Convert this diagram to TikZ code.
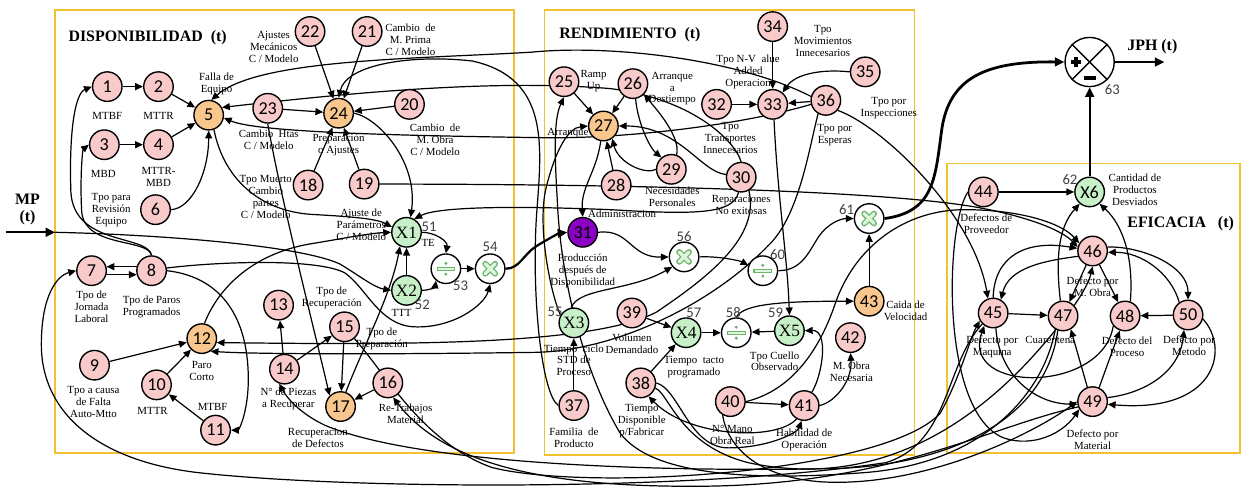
\documentclass[tikz,border=0pt]{standalone}
\usepackage{fontspec}
\setmainfont{Liberation Serif}
\newfontfamily\carl{Carlito}
\usetikzlibrary{arrows.meta,calc}
\pgfdeclarelayer{bg}
\pgfsetlayers{bg,main}
\definecolor{pinkc}{HTML}{F8CACA}
\definecolor{orc}{HTML}{F9C68E}
\definecolor{grc}{HTML}{C8F0C8}
\definecolor{purc}{HTML}{8A00C4}
\definecolor{boxc}{HTML}{F2C12E}
\definecolor{xgreen}{HTML}{6DB56D}
\definecolor{xlight}{HTML}{DDF5DD}
\definecolor{numc}{HTML}{404040}
\newcommand\mulsym[1]{%
 \draw[line width=3.4pt,xgreen,line cap=round] ($(#1)+(-5,-5)$) -- ($(#1)+(5,5)$) ($(#1)+(-5,5)$) -- ($(#1)+(5,-5)$);
 \draw[line width=1.9pt,xlight,line cap=round] ($(#1)+(-5,-5)$) -- ($(#1)+(5,5)$) ($(#1)+(-5,5)$) -- ($(#1)+(5,-5)$);}
\newcommand\divsym[1]{%
 \draw[fill=xlight,draw=xgreen,line width=0.6pt] ($(#1)+(-9,-1.6)$) rectangle ($(#1)+(9,1.6)$);
 \fill[xgreen] ($(#1)+(0,-5.5)$) circle (1.7) ($(#1)+(0,5.5)$) circle (1.7);}
\begin{document}
\begin{tikzpicture}[x=0.02cm,y=-0.02cm,
  base/.style={circle,draw=black,line width=0.8pt,minimum size=0.6cm,inner sep=0pt,font=\carl\fontsize{10.5}{10.5}\selectfont},
  pk/.style={base,fill=pinkc},
  og/.style={base,fill=orc},
  gn/.style={base,fill=grc,font=\fontsize{10}{10}\selectfont},
  pu/.style={base,fill=purc},
  opn/.style={base,fill=white},
  lbl/.style={font=\fontsize{6.3}{6.9}\selectfont,align=center,inner sep=0pt},
  ttl/.style={font=\bfseries\fontsize{9.2}{10.5}\selectfont,inner sep=0pt},
  nm/.style={font=\carl\fontsize{8.5}{8.5}\selectfont,text=numc,inner sep=0pt},
  ar/.style={-{Triangle[length=4.5pt,width=4pt]},line width=0.7pt},
  thk/.style={-{Triangle[length=5.5pt,width=5pt]},line width=1.3pt},
  bx/.style={draw=boxc,line width=0.9pt}
]
\begin{pgfonlayer}{bg}
\fill[white] (0,0) rectangle (1241,495);
\draw[bx] (56,10) rectangle (522,460);
\draw[bx] (553,10) rectangle (929,462);
\draw[bx] (962,166) rectangle (1260,460);
\end{pgfonlayer}
\useasboundingbox (0,0) rectangle (1241,495);

% nodes
\node[pk] (n1) at (109,88) {1};
\node[pk] (n2) at (161,88) {2};
\node[pk] (n3) at (106,147) {3};
\node[pk] (n4) at (161,147) {4};
\node[og] (n5) at (212,117) {5};
\node[pk] (n6) at (158,213) {6};
\node[pk] (n7) at (93,275) {7};
\node[pk] (n8) at (154,275) {8};
\node[pk] (n9) at (96,371) {9};
\node[pk] (n10) at (159,391) {10};
\node[pk] (n11) at (219,437) {11};
\node[og] (n12) at (205,344) {12};
\node[pk] (n13) at (283,310) {13};
\node[pk] (n14) at (289,375) {14};
\node[pk] (n15) at (350,332) {15};
\node[pk] (n16) at (394,389) {16};
\node[og] (n17) at (346,413) {17};
\node[pk] (n18) at (313,188) {18};
\node[pk] (n19) at (370,187) {19};
\node[pk] (n20) at (416,106) {20};
\node[pk] (n21) at (373,32) {21};
\node[pk] (n22) at (315,32) {22};
\node[pk] (n23) at (272,110) {23};
\node[og] (n24) at (344,115) {24};
\node[gn] (x1) at (413,236) {X1};
\node[gn] (x2) at (413,295) {X2};
\node[opn] (d53) at (453,273) {};
\node[opn] (m54) at (498,273) {};
\node[pk] (n25) at (573,83) {25};
\node[pk] (n26) at (643,85) {26};
\node[og] (n27) at (613,128) {27};
\node[pk] (n28) at (626,188) {28};
\node[pk] (n29) at (682,172) {29};
\node[pk] (n30) at (753,180) {30};
\node[pu] (n31) at (592,236) {31};
\node[pk] (n32) at (728,106) {32};
\node[pk] (n33) at (785,106) {33};
\node[pk] (n34) at (785,27) {34};
\node[pk] (n35) at (879,73) {35};
\node[pk] (n36) at (839,102) {36};
\node[gn] (x3) at (583,328) {X3};
\node[pk] (n37) at (583,412) {37};
\node[pk] (n38) at (651,389) {38};
\node[pk] (n39) at (642,318) {39};
\node[gn] (x4) at (697,338) {X4};
\node[opn] (d58) at (748,338) {};
\node[gn] (x5) at (802,336) {X5};
\node[opn] (m56) at (695,261) {};
\node[opn] (d60) at (775,275) {};
\node[pk] (n40) at (742,408) {40};
\node[pk] (n41) at (817,412) {41};
\node[pk] (n42) at (864,343) {42};
\node[og] (n43) at (883,306) {43};
\node[opn] (m61) at (883,222) {};
\node[pk] (n44) at (999,195) {44};
\node[gn,font=\carl\fontsize{10.5}{10.5}\selectfont] (x6) at (1107,195) {X6};
\node[pk] (n45) at (1009,318) {45};
\node[pk] (n46) at (1110,255) {46};
\node[pk] (n47) at (1080,321) {47};
\node[pk] (n48) at (1143,321) {48};
\node[pk] (n49) at (1110,408) {49};
\node[pk] (n50) at (1207,320) {50};
\node[circle,draw=black,line width=0.8pt,minimum size=1cm,inner sep=0pt,fill=white] (j63) at (1107,63) {};

\begin{pgfonlayer}{bg}
% Disponibilidad
\draw[ar] (n1) -- (n2);
\draw[ar] (n3) -- (n4);
\draw[ar] (n2) -- (n5);
\draw[ar] (n4) -- (n5);
\draw[ar] (n6.east) .. controls (195,212) and (212,175) .. (n5.south);
\draw[ar] (n22) -- (n24);
\draw[ar] (n21) -- (n24);
\draw[ar] (n23) -- (n24);
\draw[ar] (n20) -- (n24);
\draw[ar] (n18) -- (n24);
\draw[ar] (n19) -- (n24);
\draw[ar] (n24.east) .. controls (385,120) and (425,165) .. (x1.75);
\draw[ar] (n8.165) -- (n7.15);
\draw[ar] (n7.-15) -- (n8.195);
\draw[ar] (n8.north) .. controls (150,238) and (75,250) .. (72,195) .. controls (70,135) and (76,95) .. (n1.west);
\draw[ar] (n8.north) .. controls (150,242) and (86,252) .. (83,215) .. controls (81,180) and (84,152) .. (n3.west);
\draw[ar] (n8.east) .. controls (230,282) and (255,330) .. (252,395) .. controls (250,425) and (242,437) .. (n11.east);
\draw[ar] (n9) -- (n12);
\draw[ar] (n10) -- (n12);
\draw[ar] (n11) -- (n10);
\draw[ar] (n14) -- (n13);
\draw[ar] (n14) -- (n15);
\draw[ar] (n15) -- (n17);
\draw[ar] (n16) -- (n17);
\draw[ar] (n23.south) .. controls (285,200) and (318,330) .. (n17.north west);
\draw[ar] (n5.-70) .. controls (228,185) and (268,216) .. (320,218) .. controls (355,220) and (382,222) .. (x1.160);
\draw[ar] (n12.80) .. controls (222,292) and (258,256) .. (320,247) .. controls (350,242) and (375,237) .. (x1.west);
\coordinate (mpin) at (6,236);
\coordinate (mp) at (56,236);
\draw[thk] (mpin) -- (mp);
\draw[ar] (mp) .. controls (150,238) and (300,248) .. (345,268) .. controls (365,280) and (380,292) .. (x2.west);
\draw[ar] (n8.10) .. controls (220,266) and (320,262) .. (350,277) .. controls (372,292) and (385,330) .. (420,332) .. controls (460,334) and (492,310) .. (m54.south);
\draw[ar] (x2) -- (x1);
\draw[ar] (n17.70) .. controls (370,350) and (397,300) .. (x1.-115);
\draw[ar] (x1.east) .. controls (442,236) and (455,245) .. (d53.north);
\draw[ar] (x2.east) .. controls (435,295) and (442,292) .. (d53.-130);
\draw[ar] (d53) -- (m54);
\draw[thk] (m54.east) .. controls (528,273) and (532,258) .. (545,250) .. controls (558,242) and (568,237) .. (n31.west);
% Rendimiento
\draw[ar] (n25) -- (n27);
\draw[ar] (n26) -- (n27);
\draw[ar] (n28) -- (n27);
\draw[ar] (n29.west) .. controls (655,178) and (628,165) .. (n27.-55);
\draw[ar] (n30.170) .. controls (712,175) and (690,128) .. (n27.east);
\draw[ar] (n26.-80) .. controls (648,125) and (660,150) .. (n29.130);
\draw[ar] (n29.70) .. controls (692,140) and (668,112) .. (n26.-45);
\draw[ar] (n27.-100) .. controls (606,175) and (590,190) .. (n31.north);
\draw[ar] (n32) -- (n33);
\draw[ar] (n34) -- (n33);
\draw[ar] (n36) -- (n33);
\draw[ar] (n35.west) .. controls (835,70) and (808,75) .. (n33.50);
\draw[ar] (n33.-85) .. controls (790,200) and (800,262) .. (x5.north);
\draw[ar] (n31.east) .. controls (640,232) and (640,262) .. (m56.west);
\draw[ar] (x3.100) .. controls (588,292) and (640,296) .. (m56.-140);
\draw[ar] (m56.east) .. controls (730,260) and (752,265) .. (d60.160);
\draw[ar] (d60.east) .. controls (815,275) and (822,255) .. (832,240) .. controls (842,226) and (855,222) .. (m61.west);
\draw[ar] (n43) -- (m61);
\draw[thk,line width=1.6pt] (m61.east) .. controls (950,215) and (950,180) .. (957,130) .. controls (965,80) and (1000,62) .. (j63.west);
\draw[thk] (x6) -- (j63);
\coordinate (jph) at (1183,63);
\draw[thk] (j63.east) -- (jph);
\draw[ar] (n39) -- (x4);
\draw[ar] (n38) -- (x4);
\draw[ar] (n37) -- (x3);
\draw[ar] (x4) -- (d58);
\draw[ar] (x5) -- (d58);
\draw[ar] (d58.north) .. controls (755,308) and (800,306) .. (n43.west);
\draw[ar] (n40) -- (n41);
\draw[ar] (n41.east) .. controls (850,408) and (866,385) .. (n42.south);
\draw[ar] (n41.60) .. controls (836,380) and (842,335) .. (x5.east);
\draw[ar] (n40.east) .. controls (800,398) and (830,362) .. (848,310) .. controls (868,250) and (920,213) .. (980,213) .. controls (1040,213) and (1080,228) .. (n46.150);
\draw[ar] (n19.east) .. controls (600,187) and (900,192) .. (1000,212) .. controls (1050,222) and (1080,235) .. (n46.165);
\draw[ar] (n30.-100) .. controls (745,218) and (705,218) .. (620,213) .. controls (520,209) and (445,210) .. (x1.60);
\draw[ar] (n30.-60) .. controls (772,240) and (722,280) .. (667,317) .. controls (600,352) and (400,350) .. (n12.-15);
\draw[ar] (n36.-120) .. controls (822,150) and (812,220) .. (780,250) .. controls (720,312) and (620,358) .. (540,358) .. controls (400,360) and (262,360) .. (n12.-55);
\draw[ar] (n36.-40) .. controls (900,130) and (990,220) .. (n45.110);
\draw[ar] (n36.165) .. controls (750,60) and (620,45) .. (540,53) .. controls (420,60) and (262,60) .. (n5.80);
\draw[ar] (n30.north) .. controls (745,140) and (700,100) .. (620,90) .. controls (500,80) and (350,95) .. (n5.30);
\draw[ar] (n36.195) .. controls (760,125) and (650,140) .. (560,140) .. controls (420,138) and (262,135) .. (n5.-10);
\draw[ar] (n37.west) .. controls (550,400) and (540,300) .. (545,220) .. controls (550,150) and (560,80) .. (480,62) .. controls (420,55) and (352,65) .. (n24.north);
\draw[ar] (x3.150) .. controls (560,300) and (545,230) .. (555,190) .. controls (565,150) and (578,130) .. (n27.west);
\draw[ar] (n47.-120) .. controls (1060,400) and (1000,470) .. (880,480) .. controls (750,490) and (660,480) .. (630,440) .. controls (600,390) and (570,300) .. (566,200) .. controls (563,150) and (563,120) .. (n25.south);
\draw[ar] (n41.-120) .. controls (790,448) and (700,445) .. (n38.-60);
\draw[ar] (n38.east) .. controls (690,395) and (700,455) .. (740,455) .. controls (780,455) and (810,440) .. (n41.-100);
% long bottom lines
\draw[ar] (n45.-135) .. controls (960,370) and (965,450) .. (900,470) .. controls (700,500) and (350,497) .. (200,480) .. controls (100,468) and (42,420) .. (42,350) .. controls (42,300) and (58,280) .. (n7.west);
\draw[ar] (n47.-110) .. controls (1062,430) and (960,472) .. (850,476) .. controls (650,480) and (420,470) .. (330,432) .. controls (305,420) and (292,405) .. (n14.-110);
\draw[ar] (n49.200) .. controls (1000,435) and (900,495) .. (700,494) .. controls (550,494) and (450,470) .. (n16.-70);
\draw[ar] (n15.-50) .. controls (392,380) and (430,450) .. (500,475) .. controls (600,500) and (900,480) .. (955,420) .. controls (975,385) and (985,345) .. (n45.-150);
\draw[ar] (n38.-20) .. controls (680,400) and (690,452) .. (760,470) .. controls (900,500) and (1000,420) .. (1060,350) .. controls (1090,315) and (1105,292) .. (n46.south);
\draw[ar] (n40.-120) .. controls (740,460) and (780,490) .. (850,490) .. controls (950,490) and (1050,440) .. (n49.west);
% Eficacia
\draw[ar] (n44) -- (x6);
\draw[ar] (n45) -- (n47);
\draw[ar] (n50) -- (n48);
\draw[ar] (n46) -- (n47);
\draw[ar] (n46) -- (n48);
\draw[ar] (n47.100) .. controls (1072,260) and (1076,230) .. (x6.-130);
\draw[ar] (n48.70) .. controls (1152,260) and (1140,228) .. (x6.-50);
\draw[ar] (n45.north) .. controls (1010,262) and (1040,243) .. (n46.170);
\draw[ar] (n46.200) .. controls (1060,265) and (1025,272) .. (n45.60);
\draw[ar] (n46.15) .. controls (1160,250) and (1207,270) .. (n50.north);
\draw[ar] (n50.125) .. controls (1190,278) and (1160,256) .. (n46.-5);
\draw[ar] (n49.110) -- (n47.-60);
\draw[ar] (n49.65) -- (n48.-110);
\draw[ar] (n45.-80) .. controls (1015,380) and (1050,410) .. (n49.190);
\draw[ar] (n50.-15) .. controls (1250,355) and (1235,420) .. (n49.-10);
\draw[ar] (n49.15) .. controls (1160,400) and (1198,380) .. (n50.-105);
\draw[ar] (n48.-140) .. controls (1120,400) and (975,400) .. (n45.-125);
\draw[ar] (n44.west) .. controls (960,230) and (955,420) .. (1020,445) .. controls (1050,455) and (1080,440) .. (n49.-150);
\end{pgfonlayer}

% operator symbols
\mulsym{m54}
\mulsym{m56}
\mulsym{m61}
\divsym{d53}
\divsym{d58}
\divsym{d60}
\draw[line width=0.8pt] (j63.45) -- (j63.-135) (j63.135) -- (j63.-45);
\draw[line width=2.4pt] ($(j63)+(-19,0)$) -- ($(j63)+(-9,0)$) ($(j63)+(-14,-5)$) -- ($(j63)+(-14,5)$);
\draw[line width=2.4pt] ($(j63)+(-6,16)$) -- ($(j63)+(6,16)$);

% titles
\node[ttl] (tdisp) at (150,38) {DISPONIBILIDAD\ \ (t)};
\node[ttl] (trend) at (640,35) {RENDIMIENTO\ \ (t)};
\node[ttl,anchor=west] (tefic) at (1145,227) {EFICACIA\ \ \ (t)};
\node[ttl] (tmp) at (28,202) {MP};
\node[ttl] (tmpt) at (28,221) {(t)};
\node[ttl,anchor=west] (tjph) at (1145,47) {JPH (t)};

% number labels
\node[nm] (l51) at (436,230) {51};
\node[nm] (l52) at (429,310) {52};
\node[nm] (l53) at (468,290) {53};
\node[nm] (l54) at (498,251) {54};
\node[nm] (l55) at (564,317) {55};
\node[nm] (l56) at (695,240) {56};
\node[nm] (l57) at (705,318) {57};
\node[nm] (l58) at (745,318) {58};
\node[nm] (l59) at (788,318) {59};
\node[nm] (l60) at (790,259) {60};
\node[nm] (l61) at (860,213) {61};
\node[nm] (l62) at (1087,182) {62};
\node[nm] (l63) at (1130,91) {63};

% text labels
\node[lbl] (t1) at (278,48) {Ajustes\\Mecánicos\\C / Modelo};
\node[lbl] (t2) at (417,40) {Cambio\ \ de\\M. Prima\\C / Modelo};
\node[lbl] (t3) at (220,85) {Falla de\\Equipo};
\node[lbl] (t4) at (109,118) {MTBF};
\node[lbl] (t5) at (161,118) {MTTR};
\node[lbl] (t6) at (105,177) {MBD};
\node[lbl] (t7) at (161,180) {MTTR-\\MBD};
\node[lbl] (t8) at (113,213) {Tpo para\\Revisión\\Equipo};
\node[lbl] (t9) at (273,142) {Cambio\ \ Htas\\C / Modelo};
\node[lbl] (t10) at (344,147) {Preparación\\o Ajustes};
\node[lbl] (t11) at (442,142) {Cambio\ \ de\\M. Obra\\C / Modelo};
\node[lbl] (t12) at (270,200) {Tpo Muerto\\Cambio\\partes\\C / Modelo};
\node[lbl] (t13) at (367,228) {Ajuste de\\Parámetros\\C / Modelo};
\node[lbl] (t14) at (435,247) {TE};
\node[lbl] (t15) at (408,318) {TTT};
\node[lbl] (t16) at (93,312) {Tpo de\\Jornada\\Laboral};
\node[lbl] (t17) at (154,312) {Tpo de Paros\\Programados};
\node[lbl] (t18) at (205,377) {Paro\\Corto};
\node[lbl] (t19) at (95,408) {Tpo a causa\\de Falta\\Auto-Mtto};
\node[lbl] (t20) at (155,417) {MTTR};
\node[lbl] (t21) at (216,413) {MTBF};
\node[lbl] (t22) at (293,405) {N° de Piezas\\a Recuperar};
\node[lbl] (t23) at (337,303) {Tpo de\\Recuperación};
\node[lbl] (t24) at (388,344) {Tpo de\\Preparación};
\node[lbl] (t25) at (412,420) {Re-Trabajos\\Material};
\node[lbl] (t26) at (323,445) {Recuperacion\\de Defectos};
\node[lbl] (t27) at (603,82) {Ramp\\Up};
\node[lbl] (t28) at (683,90) {Arranque\\a\\Destiempo};
\node[lbl] (t29) at (577,135) {Arranque};
\node[lbl] (t30) at (760,73) {Tpo N-V\ \ alue\\Added\\Operacion};
\node[lbl] (t31) at (836,42) {Tpo\\Movimientos\\Innecesarios};
\node[lbl] (t32) at (903,110) {Tpo por\\Inspecciones};
\node[lbl] (t33) at (848,137) {Tpo por\\Esperas};
\node[lbl] (t34) at (742,140) {Tpo\\Transportes\\Innecesarios};
\node[lbl] (t35) at (683,200) {Necesidades\\Personales};
\node[lbl] (t36) at (753,208) {Reparaciones\\No exitosas};
\node[lbl] (t37) at (632,217) {Administracion};
\node[lbl] (t38) at (592,275) {Producción\\después de\\Disponibilidad};
\node[lbl] (t39) at (642,349) {Volumen\\Demandado};
\node[lbl] (t40) at (583,366) {Tiempo\ \ ciclo\\STD de\\Proceso};
\node[lbl] (t41) at (705,373) {Tiempo\ \ tacto\\programado};
\node[lbl] (t42) at (787,367) {Tpo Cuello\\Observado};
\node[lbl] (t43) at (652,428) {Tiempo\\Disponible\\p/Fabricar};
\node[lbl] (t44) at (583,445) {Familia\ \ de\\Producto};
\node[lbl] (t45) at (744,442) {N° Mano\\Obra Real};
\node[lbl] (t46) at (817,447) {Habilidad de\\Operación};
\node[lbl] (t47) at (865,378) {M. Obra\\Necesaria};
\node[lbl] (t48) at (920,316) {Caida de\\Velocidad};
\node[lbl] (t49) at (1153,193) {Cantidad de\\Productos\\Desviados};
\node[lbl] (t50) at (1002,227) {Defectos de\\Proveedor};
\node[lbl] (t51) at (1110,291) {Defecto por\\M. Obra};
\node[lbl] (t52) at (1008,352) {Defecto por\\Maquina};
\node[lbl] (t53) at (1067,345) {Cuarentena};
\node[lbl] (t54) at (1145,352) {Defecto del\\Proceso};
\node[lbl] (t55) at (1208,351) {Defecto por\\Metodo};
\node[lbl] (t56) at (1110,447) {Defecto por\\Material};
\end{tikzpicture}
\end{document}
